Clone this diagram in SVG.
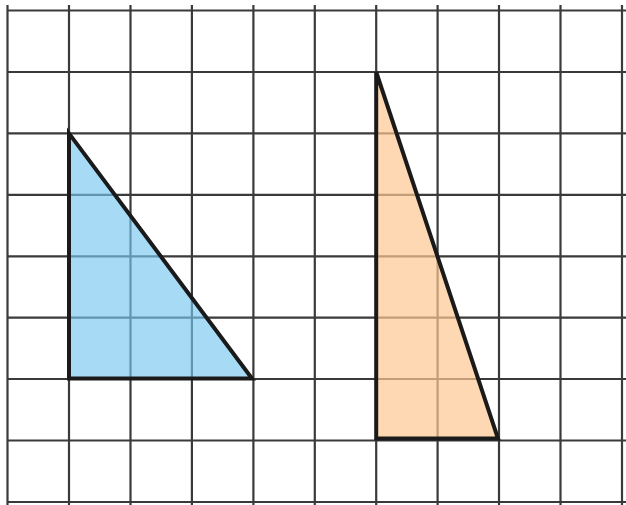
<svg xmlns="http://www.w3.org/2000/svg" width="626" height="505" viewBox="0 0 626 505">
<style>
.g line{stroke:#3a3a3a;stroke-width:2.2}
.tri{stroke:#1a1a1a;stroke-width:4;stroke-linejoin:miter}
</style>
<rect width="626" height="505" fill="#fff"/>
<g id="grid" class="g">
<line x1="7.5" y1="5" x2="7.5" y2="505"/>
<line x1="69" y1="5" x2="69" y2="505"/>
<line x1="130.5" y1="5" x2="130.5" y2="505"/>
<line x1="191.9" y1="5" x2="191.9" y2="505"/>
<line x1="253.4" y1="5" x2="253.4" y2="505"/>
<line x1="314.8" y1="5" x2="314.8" y2="505"/>
<line x1="376.2" y1="5" x2="376.2" y2="505"/>
<line x1="437.6" y1="5" x2="437.6" y2="505"/>
<line x1="499" y1="5" x2="499" y2="505"/>
<line x1="560.5" y1="5" x2="560.5" y2="505"/>
<line x1="622" y1="5" x2="622" y2="505"/>
<line x1="7" y1="10.5" x2="626" y2="10.5"/>
<line x1="7" y1="72" x2="626" y2="72"/>
<line x1="7" y1="133.4" x2="626" y2="133.4"/>
<line x1="7" y1="194.8" x2="626" y2="194.8"/>
<line x1="7" y1="256.3" x2="626" y2="256.3"/>
<line x1="7" y1="317.7" x2="626" y2="317.7"/>
<line x1="7" y1="379" x2="626" y2="379"/>
<line x1="7" y1="440.5" x2="626" y2="440.5"/>
<line x1="7" y1="502" x2="626" y2="502"/>
</g>
<g id="blue-triangle">
<polygon class="tri" points="69,133.4 69,378.5 252,378.5" fill="rgba(120,200,240,0.65)"/>
</g>
<g id="orange-triangle">
<polygon class="tri" points="376.2,72 376.2,438.5 498,438.5" fill="rgba(252,200,145,0.7)"/>
</g>
</svg>
